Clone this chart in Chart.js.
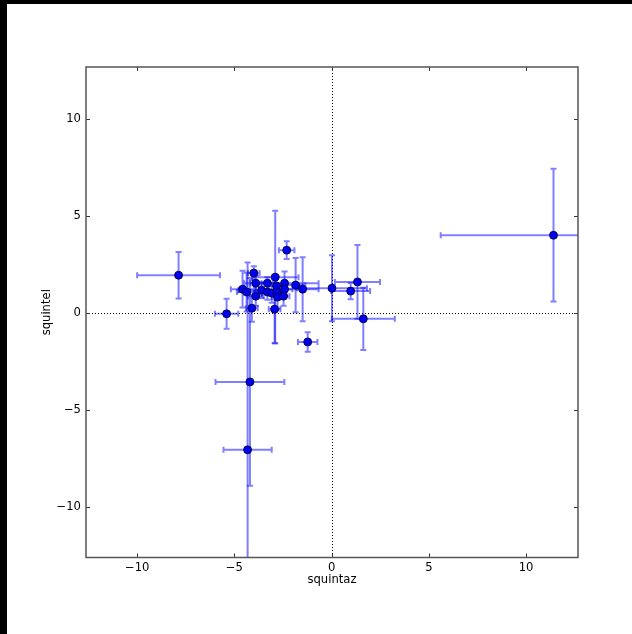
<!DOCTYPE html>
<html>
<head>
<meta charset="utf-8">
<script src="https://cdn.jsdelivr.net/npm/chart.js@4/dist/chart.umd.min.js"></script>
<style>
    html, body { margin: 0; padding: 0; background: #000; overflow: hidden; }
    #wrap { position: absolute; left: 7px; top: 4px; width: 625px; height: 630px; background: #fff; }
</style>
</head>
<body>
<div id="wrap"><canvas id="errChart" width="625" height="630"></canvas></div>
<script>
// Data (squintaz, squintel, errors)
const xs   = [11.41, -7.87, -5.40, -4.58, -4.37, -4.10, -4.00, -3.90, -3.90, -3.60, -3.30, -3.30, -3.08, -2.90, -2.83, -2.83, -2.78, -2.93, -2.42, -2.42, -2.47, -1.85, -1.49, -2.31, 0.02, 0.98, 1.33, 1.63, -1.23, -4.20, -4.32];
const ys   = [4.01, 1.95, -0.04, 1.23, 1.08, 0.25, 2.06, 1.54, 0.87, 1.18, 1.54, 1.08, 1.03, 1.85, 1.39, 1.08, 0.82, 0.20, 1.54, 1.23, 0.87, 1.44, 1.23, 3.24, 1.28, 1.13, 1.60, -0.30, -1.49, -3.55, -7.05];
const xErr = [5.80, 2.13, 0.60, 0.60, 0.50, 0.30, 0.30, 0.60, 0.40, 1.20, 0.30, 0.40, 0.50, 1.20, 0.40, 0.30, 0.30, 0.30, 1.75, 0.40, 0.30, 0.50, 0.82, 0.40, 1.80, 1.00, 1.16, 1.62, 0.50, 1.77, 1.24];
const yErr = [3.42, 1.20, 0.77, 0.95, 1.00, 0.70, 0.35, 0.40, 0.50, 0.40, 0.30, 0.40, 0.50, 3.42, 0.50, 0.40, 0.60, 1.74, 0.60, 0.40, 0.50, 1.40, 1.65, 0.46, 1.70, 0.42, 1.90, 1.60, 0.50, 5.35, 9.65];

const xTicks = [-10, -5, 0, 5, 10];
const yTicks = [-10, -5, 0, 5, 10];

const points = xs.map((x, i) => ({ x: x, y: ys[i] }));
const font = { family: 'DejaVu Sans', size: 11.6 };
const minus = v => String(v).replace('-', '\u2212');

// error bars, zero lines, frame and inward ticks
const errorBarPlugin = {
    id: 'errorBars',
    beforeDatasetsDraw(chart) {
        const ctx = chart.ctx;
        const a = chart.chartArea;
        const sx = chart.scales.x, sy = chart.scales.y;
        ctx.save();
        ctx.beginPath();
        ctx.rect(a.left, a.top, a.right - a.left, a.bottom - a.top);
        ctx.clip();

        // dotted zero lines
        ctx.strokeStyle = '#000';
        ctx.lineWidth = 1;
        ctx.setLineDash([1, 2]);
        const x0 = Math.round(sx.getPixelForValue(0)) + 0.5;
        const y0 = Math.round(sy.getPixelForValue(0)) + 0.5;
        ctx.beginPath();
        ctx.moveTo(x0, a.top); ctx.lineTo(x0, a.bottom);
        ctx.moveTo(a.left, y0); ctx.lineTo(a.right, y0);
        ctx.stroke();
        ctx.setLineDash([]);

        ctx.strokeStyle = 'rgba(0, 0, 255, 0.5)';
        ctx.lineWidth = 2;
        const cap = 3;
        xs.forEach((x, i) => {
            const px = sx.getPixelForValue(x);
            const py = sy.getPixelForValue(ys[i]);
            const l = sx.getPixelForValue(x - xErr[i]);
            const r = sx.getPixelForValue(x + xErr[i]);
            const t = sy.getPixelForValue(ys[i] + yErr[i]);
            const b = sy.getPixelForValue(ys[i] - yErr[i]);
            ctx.beginPath();
            ctx.moveTo(l, py); ctx.lineTo(r, py);
            ctx.moveTo(l, py - cap); ctx.lineTo(l, py + cap);
            ctx.moveTo(r, py - cap); ctx.lineTo(r, py + cap);
            ctx.stroke();
            ctx.beginPath();
            ctx.moveTo(px, t); ctx.lineTo(px, b);
            ctx.moveTo(px - cap, t); ctx.lineTo(px + cap, t);
            ctx.moveTo(px - cap, b); ctx.lineTo(px + cap, b);
            ctx.stroke();
        });
        ctx.restore();
    },
    afterDraw(chart) {
        const ctx = chart.ctx;
        const a = chart.chartArea;
        const sx = chart.scales.x, sy = chart.scales.y;
        ctx.save();
        ctx.strokeStyle = '#333';
        ctx.lineWidth = 1;
        const tl = 4;
        ctx.beginPath();
        sx.ticks.forEach(t => {
            const p = Math.round(sx.getPixelForValue(t.value)) + 0.5;
            ctx.moveTo(p, a.bottom); ctx.lineTo(p, a.bottom - tl);
            ctx.moveTo(p, a.top); ctx.lineTo(p, a.top + tl);
        });
        sy.ticks.forEach(t => {
            const p = Math.round(sy.getPixelForValue(t.value)) + 0.5;
            ctx.moveTo(a.left, p); ctx.lineTo(a.left + tl, p);
            ctx.moveTo(a.right, p); ctx.lineTo(a.right - tl, p);
        });
        ctx.stroke();
        ctx.strokeStyle = '#555';
        ctx.lineWidth = 1.5;
        ctx.strokeRect(a.left, a.top, a.right - a.left, a.bottom - a.top);
        ctx.restore();
    }
};

const errChart = new Chart(document.getElementById('errChart'), {
    type: 'scatter',
    data: {
        datasets: [{
            data: points,
            backgroundColor: '#0000ee',
            borderColor: 'rgba(0, 0, 40, 0.8)',
            borderWidth: 1,
            pointRadius: 4,
            pointHoverRadius: 4
        }]
    },
    options: {
        responsive: false,
        animation: false,
        events: [],
        clip: false,
        layout: { padding: { top: 63, right: 54, left: 0, bottom: 0 } },
        plugins: {
            legend: { display: false },
            tooltip: { enabled: false }
        },
        scales: {
            x: {
                type: 'linear',
                min: -12.63,
                max: 12.67,
                afterBuildTicks: s => { s.ticks = xTicks.map(v => ({ value: v })); },
                afterFit: s => { s.height = 76.5; },
                grid: { display: false, drawTicks: false },
                border: { display: false },
                ticks: { padding: 4, color: '#000', font: font, callback: minus, maxRotation: 0 },
                title: { display: true, text: 'squintaz', color: '#000', font: font, padding: { top: 0, bottom: 47 } }
            },
            y: {
                type: 'linear',
                min: -12.6,
                max: 12.68,
                afterBuildTicks: s => { s.ticks = yTicks.map(v => ({ value: v })); },
                afterFit: s => { s.width = 79; },
                grid: { display: false, drawTicks: false },
                border: { display: false },
                ticks: { padding: 5, color: '#000', font: font, callback: minus },
                title: { display: true, text: 'squintel', color: '#000', font: font, padding: { top: 33, bottom: 0 } }
            }
        }
    },
    plugins: [errorBarPlugin]
});
</script>
</body>
</html>
